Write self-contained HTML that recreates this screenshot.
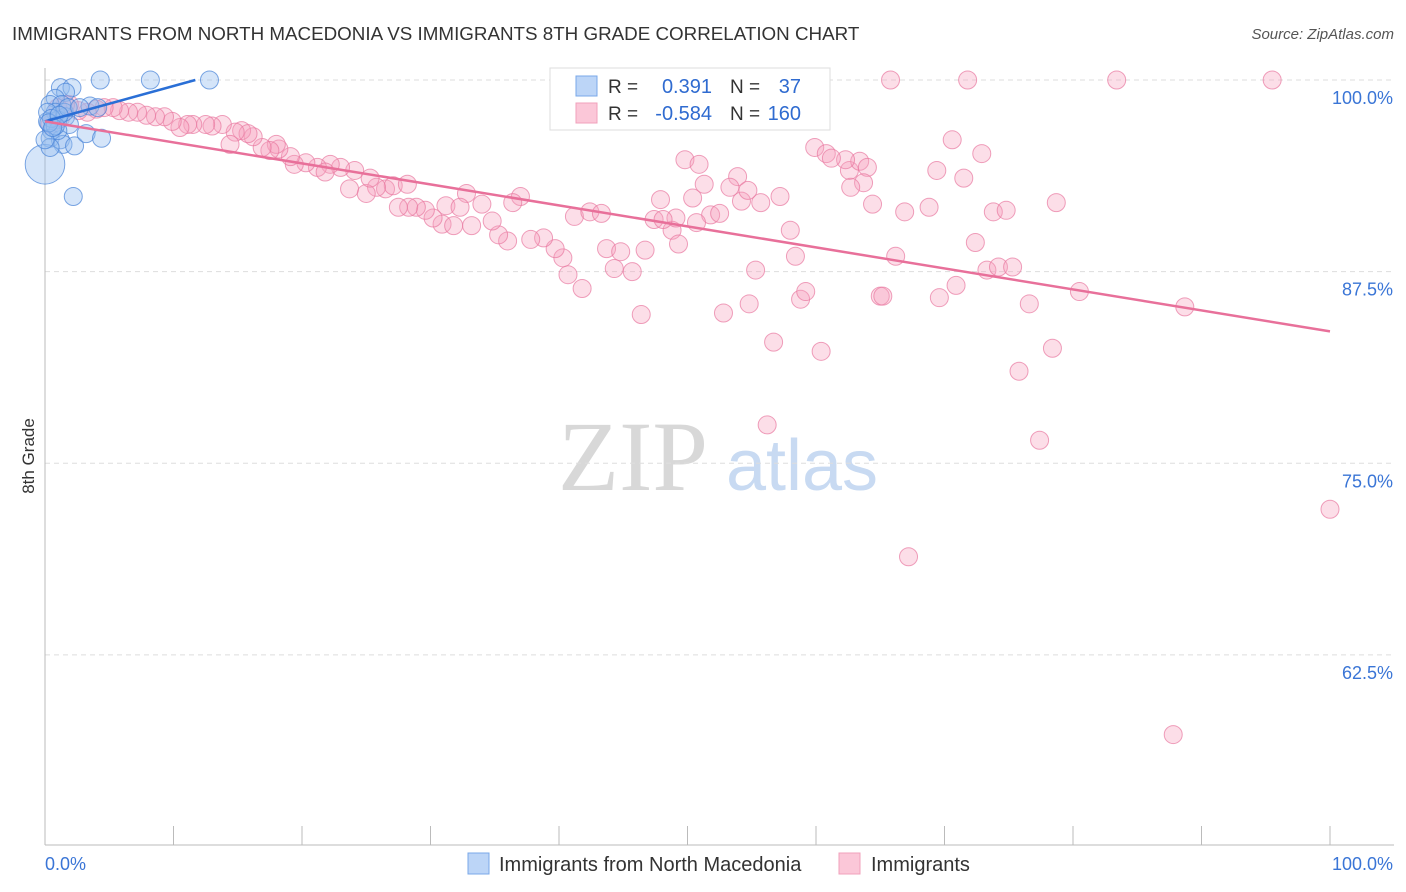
<!DOCTYPE html>
<html><head><meta charset="utf-8"><style>
body{margin:0;background:#fff;font-family:"Liberation Sans",sans-serif}
svg{display:block}
</style></head><body>
<svg id="chart" width="1406" height="892" xmlns="http://www.w3.org/2000/svg">
<text x="12" y="40" font-size="18.8" fill="#333">IMMIGRANTS FROM NORTH MACEDONIA VS IMMIGRANTS 8TH GRADE CORRELATION CHART</text>
<text x="1394" y="39" font-size="15" fill="#555" text-anchor="end" font-style="italic">Source: ZipAtlas.com</text>
<g><text x="633" y="490" font-size="100" fill="#d8d8d8" font-family="Liberation Serif,serif" text-anchor="middle">ZIP</text><text x="802" y="490" font-size="72" fill="#c8daf2" text-anchor="middle">atlas</text></g>
<g id="grid"></g><g id="axes"></g><g id="pts"></g><g id="lines"></g>
<text transform="translate(34,456) rotate(-90)" font-size="17" fill="#333" text-anchor="middle">8th Grade</text>
<g>
<rect x="550" y="68" width="280" height="62" fill="#fff" stroke="#ddd"/>
<rect x="576" y="76" width="21" height="20" fill="#bcd5f7" stroke="#7aa8e8"/>
<rect x="576" y="103" width="21" height="20" fill="#fbc7d8" stroke="#f0a0bb"/>
<text x="608" y="93" font-size="19" fill="#333">R =</text><text x="712" y="93" font-size="20" fill="#2f6bd0" text-anchor="end">0.391</text>
<text x="730" y="93" font-size="19" fill="#333">N =</text><text x="801" y="93" font-size="20" fill="#2f6bd0" text-anchor="end">37</text>
<text x="608" y="120" font-size="19" fill="#333">R =</text><text x="712" y="120" font-size="20" fill="#2f6bd0" text-anchor="end">-0.584</text>
<text x="730" y="120" font-size="19" fill="#333">N =</text><text x="801" y="120" font-size="20" fill="#2f6bd0" text-anchor="end">160</text>
</g>
<g>
<rect x="468" y="853" width="21" height="21" fill="#bcd5f7" stroke="#7aa8e8"/>
<text x="499" y="871" font-size="20" fill="#333">Immigrants from North Macedonia</text>
<rect x="839" y="853" width="21" height="21" fill="#fbc7d8" stroke="#f0a0bb"/>
<text x="871" y="871" font-size="20" fill="#333">Immigrants</text>
</g>
</svg>
<script>
const yTicks=[100,87.5,75,62.5];
const yTickLabels=["100.0%","87.5%","75.0%","62.5%"];
const xEndLabels=["0.0%","100.0%"];
const blueX=[4.3,8.2,12.8,1.2,2.1,1.6,0.8,0.4,1.3,3.5,4.1,0.8,1.6,0.2,1.0,1.9,0.5,0.4,1.2,1.4,2.3,3.2,4.4,2.2,0,0.4,1.0,1.5,0.2,0.5,0.8,1.8,2.7,0,0.3,0.6,1.1];
const blueY=[100,100,100,99.5,99.5,99.2,98.8,98.4,98.4,98.3,98.2,97.9,97.6,97.3,97.4,97.1,96.7,96.2,96.1,95.8,95.7,96.5,96.2,92.4,94.5,95.6,96.7,97.9,97.9,97.5,97.0,98.2,98.2,96.1,97.2,96.9,97.7];
const blueSize=[1,1,1,1,1,1,1,1,1,1,1,1,1,1,1,1,1,1,1,1,1,1,1,1,2.2,1,1,1,1,1,1,1,1,1,1,1,1];
const pinkX=[65.8,71.8,83.4,95.5,100,87.8,67.2,77.4,56.2,75.8,78.4,60.4,56.7,88.7,76.6,80.5,69.6,70.9,65.0,65.2,58.8,59.2,52.8,54.8,46.4,41.8,44.3,45.7,40.7,55.3,58.4,66.2,72.4,73.3,74.2,75.3,78.7,73.8,74.8,68.8,66.9,64.4,62.6,63.4,62.3,59.9,60.8,61.2,64.0,63.7,62.7,69.4,70.6,72.9,71.5,49.8,53.9,51.3,53.3,54.2,55.7,57.2,47.9,50.4,51.8,52.5,50.7,48.8,47.4,49.3,58.0,43.7,44.8,46.7,40.3,39.7,38.8,37.8,36.0,35.3,34.8,37.0,36.4,34.0,32.8,31.2,32.3,30.9,31.8,33.2,30.2,29.6,28.9,28.3,27.5,26.5,27.1,28.2,25.8,25.0,24.1,23.7,25.3,23.0,22.2,21.2,21.8,20.3,19.4,19.1,18.2,18.0,17.5,16.9,16.2,15.3,15.8,14.8,14.4,13.8,13.0,12.5,11.5,11.1,10.5,9.9,9.3,8.6,7.9,7.2,6.5,5.8,5.3,4.6,4.0,3.3,2.6,1.9,1.2,0.4,1.0,1.6,41.2,42.4,43.3,49.1,54.7,50.9,48.1];
const pinkY=[100,100,100,100,72.0,57.3,68.9,76.5,77.5,81.0,82.5,82.3,82.9,85.2,85.4,86.2,85.8,86.6,85.9,85.9,85.7,86.2,84.8,85.4,84.7,86.4,87.7,87.5,87.3,87.6,88.5,88.5,89.4,87.6,87.8,87.8,92.0,91.4,91.5,91.7,91.4,91.9,94.1,94.7,94.8,95.6,95.2,94.9,94.3,93.3,93.0,94.1,96.1,95.2,93.6,94.8,93.7,93.2,93.0,92.1,92.0,92.4,92.2,92.3,91.2,91.3,90.7,90.2,90.9,89.3,90.2,89.0,88.8,88.9,88.4,89.0,89.7,89.6,89.5,89.9,90.8,92.4,92.0,91.9,92.6,91.8,91.7,90.6,90.5,90.5,91.0,91.5,91.7,91.7,91.7,92.9,93.1,93.2,93.0,92.6,94.1,92.9,93.6,94.3,94.5,94.3,94.0,94.6,94.5,95.0,95.5,95.8,95.4,95.6,96.3,96.7,96.5,96.6,95.8,97.1,97.0,97.1,97.1,97.1,96.9,97.3,97.6,97.6,97.7,97.9,97.9,98.0,98.2,98.2,98.1,97.9,98.0,98.4,97.5,97.1,98.2,98.4,91.1,91.4,91.3,91.0,92.8,94.5,90.9];
const blueTrend=[[0,97.3],[11.7,100]];
const pinkTrend=[[0,97.3],[100,83.6]];
const NS="http://www.w3.org/2000/svg";
const xs=v=>45+v*12.85;
const ys=v=>80+(100-v)*15.33;
function mk(tag,attrs,parent){const e=document.createElementNS(NS,tag);for(const k in attrs)e.setAttribute(k,attrs[k]);parent.appendChild(e);return e;}
const grid=document.getElementById('grid'),axes=document.getElementById('axes'),pts=document.getElementById('pts'),lines=document.getElementById('lines');
yTicks.forEach((t,i)=>{
  const l=mk('line',{x1:45,x2:1394,y1:ys(t),y2:ys(t),stroke:'#ddd','stroke-dasharray':'5,4'},grid);
  
  
  const tx=mk('text',{x:1393,y:ys(t)+24,'font-size':18,fill:'#3a75d6','text-anchor':'end'},axes);
  tx.textContent=yTickLabels[i];
  
  
});
const ax=mk('line',{x1:45,x2:1394,y1:845,y2:845,stroke:'#bbb'},axes);


const ay=mk('line',{x1:45,x2:45,y1:68,y2:845,stroke:'#bbb'},axes);


for(let i=0;i<=10;i++){const t=mk('line',{x1:xs(i*10),x2:xs(i*10),y1:826,y2:845,stroke:'#bbb'},axes);
  
  }
const xl0=mk('text',{x:45,y:870,'font-size':18,fill:'#3a75d6'},axes);xl0.textContent=xEndLabels[0];


const xl1=mk('text',{x:1393,y:870,'font-size':18,fill:'#3a75d6','text-anchor':'end'},axes);xl1.textContent=xEndLabels[1];


pinkX.forEach((x,i)=>{const c=mk('circle',{cx:xs(x),cy:ys(pinkY[i]),r:9,fill:'rgba(246,160,190,0.35)',stroke:'rgba(232,120,160,0.7)','stroke-width':1},pts);
  
  });
blueX.forEach((x,i)=>{const c=mk('circle',{cx:xs(x),cy:ys(blueY[i]),r:9*blueSize[i],fill:'rgba(150,190,240,0.4)',stroke:'rgba(70,130,215,0.7)','stroke-width':1},pts);
  
  });
const bl=mk('line',{x1:xs(blueTrend[0][0]),y1:ys(blueTrend[0][1]),x2:xs(blueTrend[1][0]),y2:ys(blueTrend[1][1]),stroke:'#2a6fd6','stroke-width':2.5},lines);


const pl=mk('line',{x1:xs(pinkTrend[0][0]),y1:ys(pinkTrend[0][1]),x2:xs(pinkTrend[1][0]),y2:ys(pinkTrend[1][1]),stroke:'#e8709a','stroke-width':2.5},lines);


</script>
</body></html>
